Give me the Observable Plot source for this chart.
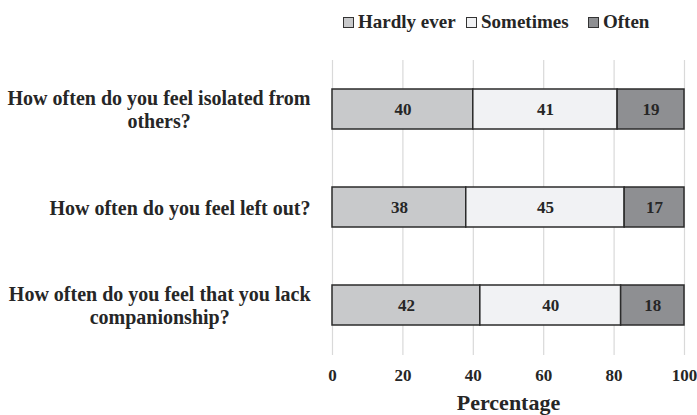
<!DOCTYPE html>
<html>
<head>
<meta charset="utf-8">
<script src="https://cdn.jsdelivr.net/npm/d3@7"></script>
<script src="https://cdn.jsdelivr.net/npm/@observablehq/plot@0.6"></script>
<style>
  body { margin: 0; background: #fff; font-family: "Liberation Serif", "Times New Roman", serif; }
  #wrap { position: relative; width: 697px; height: 415px; }
  #legend { position: relative; height: 40px; }
  .item { position: absolute; top: 11px; display: flex; align-items: center; font-weight: bold; font-size: 19px; color: #262626; line-height: 22px; white-space: nowrap; }
  .sw { width: 9px; height: 9px; border: 1px solid #333; margin-right: 4px; display: inline-block; }
</style>
</head>
<body>
<div id="wrap">
  <div id="legend"></div>
  <div id="chart"></div>
</div>
<script>
const questions = [
  "How often do you feel isolated from others?",
  "How often do you feel left out?",
  "How often do you feel that you lack companionship?"
];
const questionLabels = [
  "How often do you feel isolated from\nothers?",
  "How often do you feel left out?",
  "How often do you feel that you lack\ncompanionship?"
];
const categories = ["Hardly ever", "Sometimes", "Often"];
const hardlyEver = [40, 38, 42];
const sometimes = [41, 45, 40];
const often = [19, 17, 18];
const xTicks = [0, 20, 40, 60, 80, 100];
const colors = ["#c8c9cb", "#f1f2f4", "#8e8f92"];
const axisTitle = ["Percentage"];

const seriesValues = [hardlyEver, sometimes, often];
const data = [];
questions.forEach((q, i) => {
  categories.forEach((c, j) => data.push({question: q, category: c, value: seriesValues[j][i]}));
});

const FONT = '"Liberation Serif", "Times New Roman", serif';

// legend
const legendLeft = [343, 466, 588];
const legend = document.getElementById("legend");
categories.forEach((c, j) => {
  const it = document.createElement("div");
  it.className = "item";
  it.style.left = legendLeft[j] + "px";
  const sw = document.createElement("span");
  sw.className = "sw";
  sw.style.background = colors[j];
  it.appendChild(sw);
  it.appendChild(document.createTextNode(c));
  legend.appendChild(it);
});

// measure label widths to center each label block, right-aligned
const ctx = document.createElement("canvas").getContext("2d");
const labelFontSize = 20;
ctx.font = `bold ${labelFontSize}px ${FONT}`;
const labelMarks = questions.map((q, i) => {
  const lines = questionLabels[i].split("\n");
  const w = Math.max(...lines.map(l => ctx.measureText(l).width));
  return Plot.text([q], {
    y: d => d,
    text: () => questionLabels[i],
    frameAnchor: "left",
    textAnchor: "middle",
    dx: -(22 + w / 2),
    fontSize: labelFontSize,
    fontWeight: "bold",
    lineHeight: 1.15,
    fill: "#262626"
  });
});

const chart = Plot.plot({
  width: 697,
  height: 375,
  marginLeft: 332,
  marginRight: 13,
  marginTop: 20,
  marginBottom: 60,
  style: { fontFamily: FONT, background: "#fff" },
  x: { domain: [0, 100], ticks: xTicks, label: null },
  y: { domain: questions, paddingInner: 0.59, paddingOuter: 0.295, label: null, axis: null },
  color: { domain: categories, range: colors },
  marks: [
    Plot.gridX(xTicks, { stroke: "#d9d9d9", strokeOpacity: 1, strokeWidth: 1.2 }),
    Plot.barX(data, Plot.stackX({
      x: "value", y: "question", fill: "category", z: "category",
      stroke: "#2b2b2b", strokeWidth: 1.5
    })),
    Plot.text(data, Plot.stackX({
      x: "value", y: "question", z: "category", text: "value",
      fontSize: 17, fontWeight: "bold", fill: "#262626"
    })),
    Plot.axisX(xTicks, {
      tickSize: 0, tickPadding: 13, fontSize: 17, fontWeight: "bold",
      fill: "#262626", label: null
    }),
    Plot.text(axisTitle, {
      text: d => d, frameAnchor: "bottom", dy: 47, fontSize: 22,
      fontWeight: "bold", fill: "#262626", lineAnchor: "middle"
    }),
    ...labelMarks
  ]
});
document.getElementById("chart").appendChild(chart);
</script>
</body>
</html>
